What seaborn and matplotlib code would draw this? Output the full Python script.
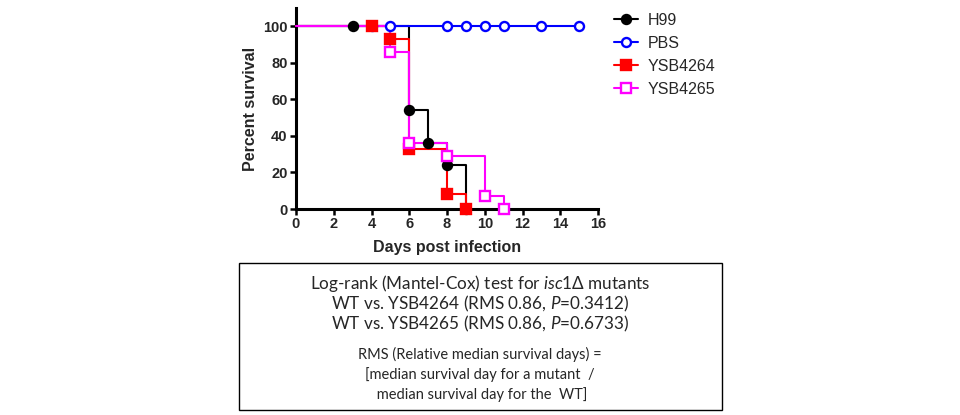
import matplotlib
matplotlib.use("Agg")
import matplotlib.pyplot as plt
from matplotlib.lines import Line2D
from matplotlib.patches import Rectangle
import seaborn as sns
import pandas as pd

# survival curves (days, percent surviving)
h99_days = [0, 3, 6, 7, 8, 9]
h99_surv = [100, 100, 54, 36, 24, 0]
pbs_days = [0, 4, 5, 8, 9, 10, 11, 13, 15]
pbs_surv = [100, 100, 100, 100, 100, 100, 100, 100, 100]
ysb4264_days = [0, 4, 5, 6, 8, 9]
ysb4264_surv = [100, 100, 93, 33, 8, 0]
ysb4265_days = [0, 5, 6, 8, 10, 11]
ysb4265_surv = [100, 86, 36, 29, 7, 0]

strains = ["H99", "PBS", "YSB4264", "YSB4265"]
colors = {"H99": "black", "PBS": "#0000ff", "YSB4264": "#ff0000", "YSB4265": "#ff00ff"}
marks = {"H99": ("o", True), "PBS": ("o", False), "YSB4264": ("s", True), "YSB4265": ("s", False)}

x_ticks = [0, 2, 4, 6, 8, 10, 12, 14, 16]
y_ticks = [0, 20, 40, 60, 80, 100]

box_lines = [
    "Log-rank (Mantel-Cox) test for $\\mathit{isc1}$\u0394 mutants",
    "WT vs. YSB4264 (RMS 0.86, $\\mathit{P}$=0.3412)",
    "WT vs. YSB4265 (RMS 0.86, $\\mathit{P}$=0.6733)",
]
note_lines = [
    "RMS (Relative median survival days) =",
    "[median survival day for a mutant  /",
    " median survival day for the  WT]",
]

rows = []
for name, d, s in [("H99", h99_days, h99_surv), ("PBS", pbs_days, pbs_surv),
                   ("YSB4264", ysb4264_days, ysb4264_surv), ("YSB4265", ysb4265_days, ysb4265_surv)]:
    for day, pct in zip(d, s):
        rows.append({"strain": name, "day": day, "survival": pct})
df = pd.DataFrame(rows)

sns.set_theme(style="ticks")
plt.rcParams["font.family"] = ["Liberation Sans", "DejaVu Sans"]
plt.rcParams["mathtext.fontset"] = "custom"
plt.rcParams["mathtext.rm"] = "Lato"
plt.rcParams["mathtext.it"] = "Lato:italic"

fig = plt.figure(figsize=(9.6, 4.15), dpi=100)
ax = fig.add_axes([296 / 960, 1 - 209 / 415, 302 / 960, 201 / 415])

for i, name in enumerate(strains):
    sub = df[df["strain"] == name]
    sns.lineplot(data=sub, x="day", y="survival", ax=ax, color=colors[name],
                 drawstyle="steps-post", linewidth=1.5, estimator=None,
                 sort=False, zorder=2 + i, clip_on=False)
for i, name in enumerate(strains):
    sub = df[df["strain"] == name].iloc[1:]
    m, filled = marks[name]
    ax.plot(sub["day"], sub["survival"], linestyle="none", marker=m,
            markersize=6.5, markeredgewidth=1.7, color=colors[name],
            markerfacecolor=colors[name] if filled else "white",
            zorder=10 + i, clip_on=False)

ax.set_xlim(0, 16)
ax.set_ylim(0, 110)
ax.set_xticks(x_ticks)
ax.set_yticks(y_ticks)
ax.set_xticklabels([str(t) for t in x_ticks], fontweight="bold", fontsize=10.5)
ax.set_yticklabels([str(t) for t in y_ticks], fontweight="bold", fontsize=10.5)
ax.tick_params(length=4, width=1.8, pad=2, color="black")
for sp in ["left", "bottom"]:
    ax.spines[sp].set_linewidth(2.2)
    ax.spines[sp].set_color("black")
sns.despine(ax=ax)
ax.set_xlabel("Days post infection", fontweight="bold", fontsize=11.5, labelpad=6)
ax.set_ylabel("Percent survival", fontweight="bold", fontsize=11.5, labelpad=4)
ax.grid(False)

handles = []
for name in strains:
    m, filled = marks[name]
    handles.append(Line2D([0], [0], color=colors[name], linewidth=1.5, marker=m,
                          markersize=6.5, markeredgewidth=1.7,
                          markerfacecolor=colors[name] if filled else "white"))
fig.legend(handles, strains, loc="upper left", bbox_to_anchor=(614 / 960, 1 - 13 / 415),
           bbox_transform=fig.transFigure, frameon=False, fontsize=11.5,
           handlelength=1.5, handletextpad=0.6, labelspacing=0.5, borderpad=0,
           borderaxespad=0)

fig.patches.append(Rectangle((239 / 960, 1 - 410 / 415), (722 - 239) / 960, (410 - 263) / 415,
                             transform=fig.transFigure, fill=False, edgecolor="black",
                             linewidth=1.0))
cx = 480 / 960
for k, line in enumerate(box_lines):
    fig.text(cx, 1 - (283 + k * 20.5) / 415, line, ha="center", va="center",
             fontsize=12.3, family="Lato")
for k, line in enumerate(note_lines):
    fig.text(cx, 1 - (354 + k * 20.5) / 415, line, ha="center", va="center",
             fontsize=10.5, family="Lato")

fig.savefig("out.png", dpi=100)
